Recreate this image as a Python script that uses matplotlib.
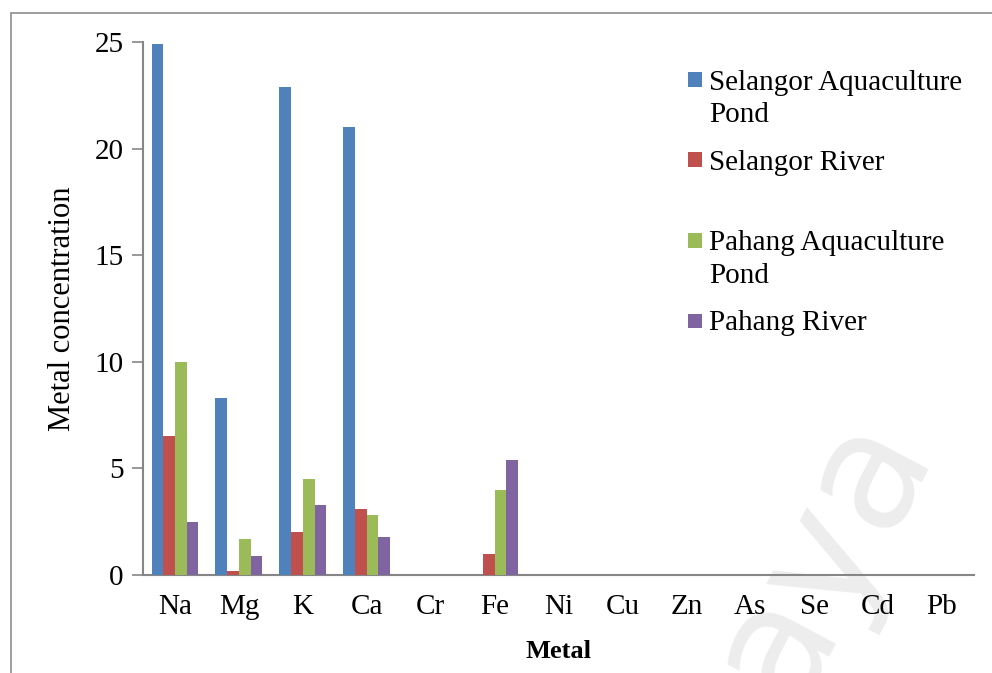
import matplotlib
matplotlib.use("Agg")
import matplotlib.pyplot as plt
from matplotlib.patches import Rectangle
import numpy as np

metals = ["Na", "Mg", "K", "Ca", "Cr", "Fe", "Ni", "Cu", "Zn", "As", "Se", "Cd", "Pb"]
series_names = ["Selangor Aquaculture\nPond", "Selangor River", "Pahang Aquaculture\nPond", "Pahang River"]
selangor_pond = [24.9, 8.3, 22.9, 21.0, 0, 0, 0, 0, 0, 0, 0, 0, 0]
selangor_river = [6.5, 0.2, 2.0, 3.1, 0, 1.0, 0, 0, 0, 0, 0, 0, 0]
pahang_pond = [10.0, 1.7, 4.5, 2.8, 0, 4.0, 0, 0, 0, 0, 0, 0, 0]
pahang_river = [2.5, 0.9, 3.3, 1.8, 0, 5.4, 0, 0, 0, 0, 0, 0, 0]
colors = ["#4F81BD", "#C0504D", "#9BBB59", "#8064A2"]
yticks = [0, 5, 10, 15, 20, 25]

W, H = 992, 673
plt.rcParams["font.family"] = ["Liberation Serif", "DejaVu Serif"]
fig = plt.figure(figsize=(W / 100, H / 100), dpi=100)

def fx(px):
    return px / W

def fy(py):
    return 1 - py / H

# watermark (behind everything)
fig.text(fx(808), fy(572), "laya", fontsize=118, color="#EDEDED", rotation=62,
         ha="center", va="center", family="DejaVu Sans", zorder=-10)

# figure border
fig.patches.append(Rectangle((fx(11), -0.1), 1.2, fy(13) + 0.1, transform=fig.transFigure,
                             fill=False, edgecolor="#8C8C8C", linewidth=1.2, zorder=-5))

ax = fig.add_axes([fx(143), fy(575), fx(974) - fx(143), fy(42) - fy(575)])
ax.patch.set_alpha(0)

data = [selangor_pond, selangor_river, pahang_pond, pahang_river]
x = np.arange(len(metals))
bw = 0.183
for i, (vals, c) in enumerate(zip(data, colors)):
    ax.bar(x + (i - 1.5) * bw, vals, width=bw, color=c, edgecolor="none", zorder=3)

ax.set_xlim(-0.5, len(metals) - 0.5)
ax.set_ylim(0, 25)
ax.set_yticks(yticks)
ax.set_yticklabels([str(t) for t in yticks], fontsize=21)
ax.set_xticks(x)
ax.set_xticklabels(metals, fontsize=21)
ax.tick_params(axis="x", length=0, pad=14)
ax.tick_params(axis="y", length=8, width=1.2, color="#868686", pad=6, direction="out")
for s in ["top", "right"]:
    ax.spines[s].set_visible(False)
for s in ["left", "bottom"]:
    ax.spines[s].set_color("#868686")
    ax.spines[s].set_linewidth(1.5)

fig.text(fx(62), fy(309), "Metal concentration", rotation=90, fontsize=22,
         ha="center", va="center")
fig.text(fx(559), fy(651), "Metal", fontsize=19, fontweight="bold",
         ha="center", va="center")

# legend (manual, Excel-like layout)
leg_y = [79.5, 159.5, 240.5, 320.5]
for name, c, yy in zip(series_names, colors, leg_y):
    fig.patches.append(Rectangle((fx(688), fy(yy + 7)), fx(14), 14 / H,
                                 transform=fig.transFigure, facecolor=c, edgecolor="none"))
    fig.text(fx(709), fy(yy - 10), name, fontsize=21, ha="left", va="top",
             linespacing=1.32)

fig.savefig("out.png", dpi=100)
